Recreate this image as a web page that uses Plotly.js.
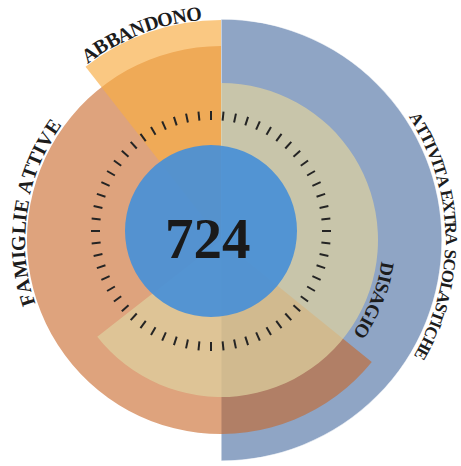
<!DOCTYPE html>
<html>
<head>
<meta charset="utf-8">
<script src="https://cdn.plot.ly/plotly-3.0.1.min.js"></script>
<style>
  html, body { margin: 0; padding: 0; background: #ffffff; }
  #chart { width: 461px; height: 466px; }
</style>
</head>
<body>
<div id="chart"></div>
<script>
// Ring segments; angles in degrees, clockwise from 12 o'clock
const segmentNames  = ['ATTIVITA EXTRA SCOLASTICHE', 'FAMIGLIE ATTIVE', 'DISAGIO', 'ABBANDONO'];
const segmentStart  = [0, 129, 0, 322];
const segmentEnd    = [180, 360, 232, 360];
const segmentRadius = [221, 194, 157, 220];

// Central figure
const totalValue = 724;

// Clock-style tick ring around the centre disk
const tickCount = 60;

// ---- styling ----
const W = 461, H = 466;
const segmentFill = [
  'rgb(143,165,197)',
  'rgba(200,102,38,0.6)',
  'rgba(222,209,160,0.72)',
  'rgba(248,173,69,0.67)'
];
// curved label placement: angular extent, radius of letter centres, font size
const labelArc = [
  { from: 57,   to: 121,   r: 230, size: 17 },
  { from: 251,  to: 306,   r: 203, size: 20 },
  { from: 97.5, to: 125.5, r: 168, size: 19 },
  { from: 323,  to: 355,   r: 228, size: 20 }
];
const labelFont = '"Liberation Serif", "Times New Roman", serif';

// outer rings: centre (221,240) px, radius 221 px
const outer = { cx: 221, cy: 240, R: 221 };
// inner disk + ticks: centre (211,231) px, radius 130 px
const inner = { cx: 211, cy: 231, R: 130 };

function domainOf(g) {
  return {
    x: [(g.cx - g.R) / W, (g.cx + g.R) / W],
    y: [(H - g.cy - g.R) / H, (H - g.cy + g.R) / H]
  };
}

const traces = segmentNames.map((name, i) => ({
  type: 'barpolar',
  subplot: 'polar',
  name: name,
  r: [segmentRadius[i]],
  theta: [(segmentStart[i] + segmentEnd[i]) / 2],
  width: [segmentEnd[i] - segmentStart[i]],
  marker: {
    color: segmentFill[i],
    line: i === 0 ? { color: 'rgba(255,255,255,0.8)', width: 1.2 } : { width: 0 }
  },
  hoverinfo: 'skip'
}));

// centre disk
traces.push({
  type: 'barpolar',
  subplot: 'polar2',
  r: [86],
  theta: [0],
  width: [360],
  marker: { color: 'rgba(73,144,214,0.93)', line: { width: 0 } },
  hoverinfo: 'skip'
});

// tick marks
const tr = [], tt = [];
for (let k = 0; k < tickCount; k++) {
  const a = k * 360 / tickCount;
  tr.push(111, 120, null);
  tt.push(a, a, null);
}
traces.push({
  type: 'scatterpolar',
  subplot: 'polar2',
  mode: 'lines',
  r: tr,
  theta: tt,
  line: { color: '#242424', width: 2 },
  hoverinfo: 'skip'
});

// curved labels, one annotation per letter
const ctx = document.createElement('canvas').getContext('2d');
const annotations = [];
segmentNames.forEach((text, i) => {
  const arc = labelArc[i];
  ctx.font = 'bold ' + arc.size + 'px ' + labelFont;
  const widths = Array.from(text).map(ch => ctx.measureText(ch).width);
  const total = widths.reduce((s, w) => s + w, 0);
  const arcLen = (arc.to - arc.from) * Math.PI / 180 * arc.r;
  const scale = arcLen / total;
  let cum = 0;
  Array.from(text).forEach((ch, j) => {
    const mid = (cum + widths[j] / 2) * scale;
    cum += widths[j];
    if (ch === ' ') return;
    const th = arc.from + mid / arc.r * 180 / Math.PI;
    const rad = th * Math.PI / 180;
    const px = outer.cx + arc.r * Math.sin(rad);
    const py = outer.cy - arc.r * Math.cos(rad);
    annotations.push({
      xref: 'paper', yref: 'paper',
      x: px / W, y: 1 - py / H,
      xanchor: 'center', yanchor: 'middle',
      text: ch, showarrow: false, textangle: th,
      font: { family: labelFont, size: arc.size, color: '#1c1c1c', weight: 700 }
    });
  });
});

// central value
annotations.push({
  xref: 'paper', yref: 'paper',
  x: 208 / W, y: 1 - 238 / H,
  xanchor: 'center', yanchor: 'middle',
  text: String(totalValue), showarrow: false,
  font: { family: labelFont, size: 57, color: '#1a1a1a', weight: 700 }
});

const hiddenAngular = {
  direction: 'clockwise', rotation: 90,
  showgrid: false, showline: false, showticklabels: false, ticks: ''
};

const od = domainOf(outer), id = domainOf(inner);
const layout = {
  width: W, height: H,
  margin: { l: 0, r: 0, t: 0, b: 0 },
  paper_bgcolor: '#ffffff',
  showlegend: false,
  hovermode: false,
  polar: {
    domain: od,
    bgcolor: 'rgba(0,0,0,0)',
    barmode: 'overlay',
    radialaxis: { visible: false, range: [0, outer.R] },
    angularaxis: hiddenAngular
  },
  polar2: {
    domain: id,
    bgcolor: 'rgba(0,0,0,0)',
    barmode: 'overlay',
    radialaxis: { visible: false, range: [0, inner.R] },
    angularaxis: hiddenAngular
  },
  annotations: annotations
};

Plotly.newPlot('chart', traces, layout, { displayModeBar: false, staticPlot: true });
</script>
</body>
</html>
